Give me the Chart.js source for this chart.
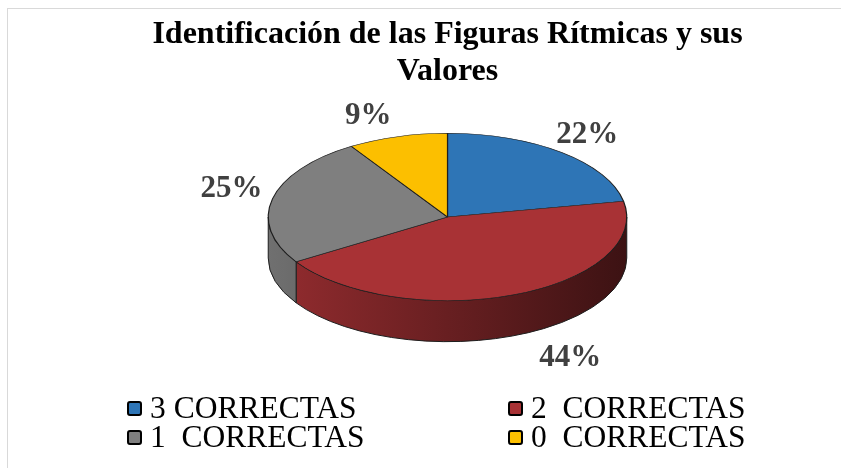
<!DOCTYPE html>
<html><head><meta charset="utf-8">
<script src="https://cdn.jsdelivr.net/npm/chart.js@4.4.1/dist/chart.umd.min.js"></script>
<style>
html,body{margin:0;padding:0;background:#fff;}
#wrap{position:relative;width:841px;height:468px;overflow:hidden;background:#fff;}
#frame{position:absolute;left:7px;top:8px;width:900px;height:520px;border:1px solid #d9d9d9;box-sizing:border-box;}
canvas{position:absolute;left:0;top:0;}
#legend{position:absolute;left:0;top:0;width:841px;height:468px;pointer-events:none;font-family:"Liberation Serif","Times New Roman",serif;font-size:31.5px;color:#000;}
.item{position:absolute;height:30px;display:flex;align-items:center;white-space:pre;line-height:1;}
.box{width:11px;height:11px;border:2.5px solid #000;border-radius:3px;margin-right:8px;flex:none;}
</style></head>
<body>
<div id="wrap">
  <div id="frame"></div>
  <canvas id="c" width="841" height="468"></canvas>
  <div id="legend"></div>
</div>
<script>
const categories = ['3 CORRECTAS', '2  CORRECTAS', '1  CORRECTAS', '0  CORRECTAS'];
const percentages = [22, 44, 25, 9];
const sliceColors = ['#2e75b6', '#a83235', '#7f7f7f', '#fcbf00'];
const titleLines = ['Identificación de las Figuras Rítmicas y sus', 'Valores'];

const TILT = 84 / 180;      // vertical squash of the top face
const DEPTH = 41;           // thickness of the 3D side
const CENTER_Y = 217;       // vertical centre of the top face
const LABEL_OFFSETS = [[0, 4], [42, -4], [-2, -4], [-18, 6]];

function shade(hex, f) {
  const n = parseInt(hex.slice(1), 16);
  const r = Math.round(((n >> 16) & 255) * f), g = Math.round(((n >> 8) & 255) * f), b = Math.round((n & 255) * f);
  return `rgb(${r},${g},${b})`;
}

const pie3d = {
  id: 'pie3d',
  beforeDatasetsDraw(chart) {
    const ctx = chart.ctx;
    const arcs = chart.getDatasetMeta(0).data;
    if (!arcs.length) return;
    const cx = arcs[0].x, cy = arcs[0].y, r = arcs[0].outerRadius, ry = r * TILT;
    ctx.save();
    arcs.forEach((arc, i) => {
      const s = Math.max(arc.startAngle, 0), e = Math.min(arc.endAngle, Math.PI);
      if (e <= s) return;
      const col = chart.data.datasets[0].backgroundColor[i];
      const grad = ctx.createLinearGradient(cx - r, 0, cx + r, 0);
      grad.addColorStop(0, shade(col, 0.88));
      grad.addColorStop(0.5, shade(col, 0.62));
      grad.addColorStop(1, shade(col, 0.36));
      ctx.beginPath();
      ctx.ellipse(cx, CENTER_Y, r, ry, 0, s, e, false);
      ctx.lineTo(cx + r * Math.cos(e), CENTER_Y + ry * Math.sin(e) + DEPTH);
      ctx.ellipse(cx, CENTER_Y + DEPTH, r, ry, 0, e, s, true);
      ctx.closePath();
      ctx.fillStyle = grad;
      ctx.fill();
      ctx.lineWidth = 1;
      ctx.strokeStyle = '#1e1e1e';
      ctx.stroke();
    });
    ctx.restore();
    ctx.save();
    ctx.translate(0, CENTER_Y);
    ctx.scale(1, TILT);
    ctx.translate(0, -cy);
  },
  afterDatasetsDraw(chart) {
    const ctx = chart.ctx;
    ctx.restore();
    const arcs = chart.getDatasetMeta(0).data;
    if (!arcs.length) return;
    const cx = arcs[0].x, r = arcs[0].outerRadius, ry = r * TILT;
    ctx.save();
    ctx.font = "bold 31px 'Liberation Serif', 'Times New Roman', serif";
    ctx.fillStyle = '#404040';
    ctx.textAlign = 'center';
    ctx.textBaseline = 'middle';
    arcs.forEach((arc, i) => {
      const mid = (arc.startAngle + arc.endAngle) / 2;
      const sn = Math.sin(mid), cs = Math.cos(mid);
      const x = cx + (r + 40) * cs + LABEL_OFFSETS[i][0];
      const y = CENTER_Y + (ry + 28) * sn + (sn > 0 ? DEPTH : 0) + LABEL_OFFSETS[i][1];
      ctx.fillText(chart.data.datasets[0].data[i] + '%', x, y);
    });
    ctx.restore();
  }
};

const chart = new Chart(document.getElementById('c'), {
  type: 'pie',
  data: {
    labels: categories,
    datasets: [{
      data: percentages,
      backgroundColor: sliceColors,
      borderColor: '#1e1e1e',
      borderWidth: 1.2
    }]
  },
  options: {
    responsive: false,
    animation: false,
    devicePixelRatio: 1,
    layout: { padding: { left: 54, right: 0, top: 0, bottom: 18 } },
    plugins: {
      legend: { display: false },
      tooltip: { enabled: false },
      title: {
        display: true,
        text: titleLines,
        color: '#000',
        font: { family: "'Liberation Serif', 'Times New Roman', serif", size: 32, weight: 'bold', lineHeight: 1.16 },
        padding: { top: 16, bottom: 0 }
      }
    }
  },
  plugins: [pie3d]
});

// HTML legend built from the chart data
const legendEl = document.getElementById('legend');
const colLeft = [127, 508], rowMid = [408, 437];
chart.data.labels.forEach((lab, i) => {
  const it = document.createElement('div');
  it.className = 'item';
  it.style.left = colLeft[i % 2] + 'px';
  it.style.top = (rowMid[Math.floor(i / 2)] - 15) + 'px';
  const b = document.createElement('span');
  b.className = 'box';
  b.style.background = chart.data.datasets[0].backgroundColor[i];
  const t = document.createElement('span');
  t.textContent = lab;
  it.appendChild(b); it.appendChild(t);
  legendEl.appendChild(it);
});
</script>
</body></html>
